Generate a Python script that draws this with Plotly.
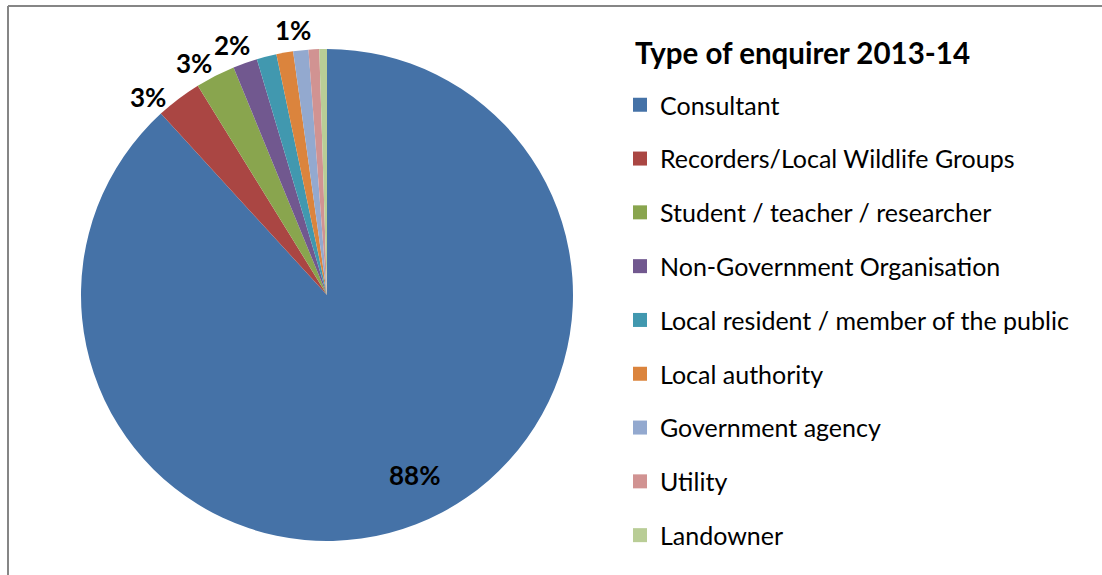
import math
import plotly.graph_objects as go

categories = [
    "Consultant",
    "Recorders/Local Wildlife Groups",
    "Student / teacher / researcher",
    "Non-Government Organisation",
    "Local resident / member of the public",
    "Local authority",
    "Government agency",
    "Utility",
    "Landowner",
]
values = [88.2, 3.0, 2.6, 1.6, 1.3, 1.1, 1.0, 0.7, 0.5]
shown_labels = ["88%", "3%", "3%", "2%", "", "", "1%", "", ""]
colors = ["#4572A7", "#AA4643", "#89A54E", "#71588F", "#4198AF",
          "#DB843D", "#93A9CF", "#D19392", "#B9CD96"]
title_text = "Type of enquirer 2013-14"

# styling: small angular nudges (degrees) of each data label off its slice mid-angle
label_nudge_deg = [-4.8, -5.0, -2.8, -1.3, 0, 0, -1.2, 0, 0]

W, H = 1102, 575
FONT = "Lato, 'Open Sans', sans-serif"

fig = go.Figure()

# pie geometry (pixels): center (327, 295), radius 246
cx, cy, r = 327, 295, 246
fig.add_trace(go.Pie(
    labels=categories,
    values=values,
    textinfo="none",
    sort=False,
    direction="clockwise",
    rotation=0,
    marker=dict(colors=colors, line=dict(width=0)),
    domain=dict(x=[(cx - r) / W, (cx + r) / W],
                y=[(H - cy - r) / H, (H - cy + r) / H]),
    showlegend=False,
    hoverinfo="label+percent",
))

# data labels placed at each slice's mid-angle (derived from the values)
total = sum(values)
annotations = []
cum = 0.0
for v, lab, nudge in zip(values, shown_labels, label_nudge_deg):
    mid = (cum + v / 2) / total * 360.0 + nudge
    cum += v
    if not lab:
        continue
    share = v / total
    rad = 0.813 * r if share > 0.5 else r + 21
    a = math.radians(mid)
    px = cx + rad * math.sin(a)
    py = cy - rad * math.cos(a)
    annotations.append(dict(
        text="<b>" + lab + "</b>", xref="paper", yref="paper",
        x=px / W, y=1 - py / H, xanchor="center", yanchor="middle",
        showarrow=False, font=dict(family=FONT, size=26, color="black"),
    ))

annotations.append(dict(
    text="<b>" + title_text + "</b>",
    xref="paper", yref="paper",
    x=633 / W, y=1 - 53 / H, xanchor="left", yanchor="middle",
    showarrow=False, font=dict(family=FONT, size=29.5, color="black"),
))

# legend entries (one per category, spaced like the original)
for name, col in zip(categories, colors):
    fig.add_trace(go.Scatter(
        x=[None], y=[None], mode="markers", name=name,
        marker=dict(symbol="square", size=14, color=col),
        legendgroup=name, showlegend=True, hoverinfo="skip",
    ))

fig.update_layout(
    width=W, height=H,
    margin=dict(l=0, r=0, t=0, b=0, autoexpand=False),
    paper_bgcolor="white", plot_bgcolor="white",
    font=dict(family=FONT, size=25, color="black"),
    xaxis=dict(visible=False), yaxis=dict(visible=False),
    legend=dict(
        x=620 / W, xanchor="left",
        y=1 - 82 / H, yanchor="top",
        tracegroupgap=18.3,
        font=dict(family=FONT, size=25, color="black"),
        bgcolor="rgba(0,0,0,0)",
    ),
    annotations=annotations,
    shapes=[
        dict(type="line", xref="paper", yref="paper",
             x0=8 / W, x1=1.0, y0=1 - 6 / H, y1=1 - 6 / H,
             line=dict(color="#868686", width=2)),
        dict(type="line", xref="paper", yref="paper",
             x0=8 / W, x1=8 / W, y0=1 - 6 / H, y1=0,
             line=dict(color="#868686", width=2)),
    ],
)

fig.write_html(
    "out.html",
    config={"displayModeBar": False},
    post_script="document.body.style.margin='0';document.body.style.overflow='hidden';",
)
